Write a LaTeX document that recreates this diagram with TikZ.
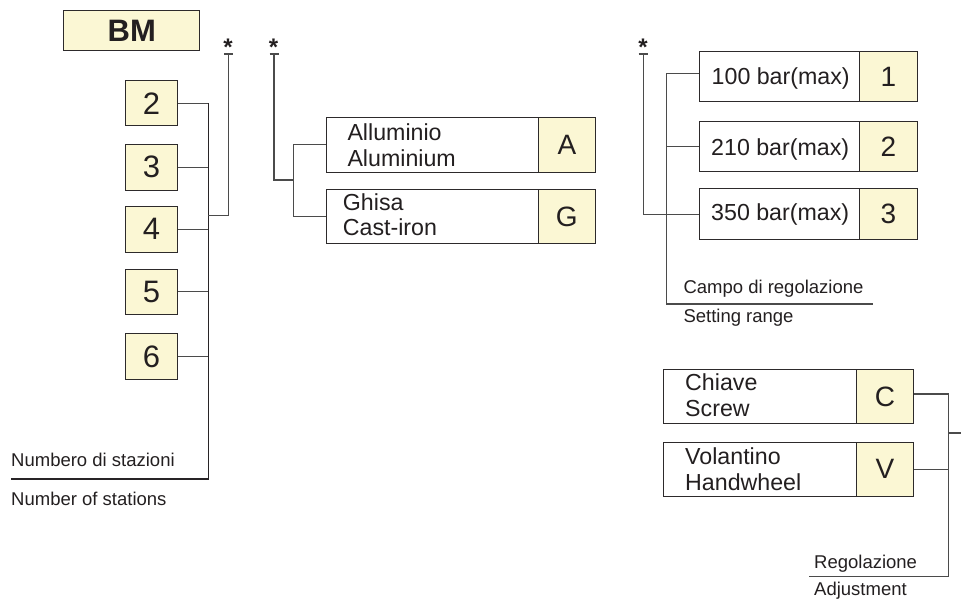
\documentclass[tikz,border=0pt]{standalone}
\usepackage{fontspec}
\setmainfont{Liberation Sans}
\definecolor{ylw}{RGB}{251,247,212}
\definecolor{linec}{RGB}{75,75,75}
\definecolor{busc}{RGB}{40,36,38}
\definecolor{boxc}{RGB}{45,42,43}
\definecolor{txtc}{RGB}{35,31,32}
\tikzset{
  ln/.style={draw=linec, line width=1.1pt},
  busln/.style={draw=busc, line width=1.1pt},
  ybox/.style={draw=boxc, fill=ylw, line width=1pt, inner sep=0pt, anchor=north west, text=txtc},
  wbox/.style={draw=boxc, fill=white, line width=1pt, inner sep=0pt, anchor=north west},
  txt/.style={font=\fontsize{23.2}{25.7}\selectfont, anchor=base west, inner sep=0pt, text=txtc},
  lbl/.style={font=\fontsize{18.5}{22}\selectfont, anchor=base west, inner sep=0pt, text=txtc},
  starnode/.style={font=\fontsize{24}{26}\selectfont\bfseries, anchor=base, inner sep=0pt, text=txtc},
  numbox/.style={ybox, minimum width=52pt, minimum height=45.5pt, font=\fontsize{31}{33}\selectfont},
  letfont/.style={font=\fontsize{28}{30}\selectfont},
}
\begin{document}
\begin{tikzpicture}[x=1pt,y=-1pt]
\useasboundingbox (0,0) rectangle (961,599);

% BM
\node[ybox, minimum width=136pt, minimum height=40.5pt, font=\fontsize{31}{33}\selectfont\bfseries] (bm) at (63.3,10) {BM};

% number boxes
\node[numbox] (n2) at (125,80) {2};
\node[numbox] (n3) at (125,144) {3};
\node[numbox] (n4) at (125,206) {4};
\node[numbox] (n5) at (125,268.5) {5};
\node[numbox] (n6) at (125,333.3) {6};

\coordinate (b1top) at (208.3,103);
\coordinate (b1bot) at (208.3,479);
\coordinate (b1end) at (11,479);
\foreach \n in {n2,n3,n4,n5,n6}{\draw[ln] (\n.east) -- (\n.east -| b1top);}
\draw[busln] (b1top) -- (b1bot) -- (b1end);
\node[lbl] (l1a) at (11,466.7) {Numbero di stazioni};
\node[lbl] (l1b) at (11,505) {Number of stations};

% star 1
\node[starnode] (s1) at (228,56) {*};
\coordinate (t1l) at (224,54); \coordinate (t1r) at (233,54);
\coordinate (t1) at (228.7,54); \coordinate (t1b) at (228.7,215.7);
\draw[ln] (t1l) -- (t1r);
\draw[ln] (t1) -- (t1b) -- (t1b -| b1top);

% star 2 : material
\node[starnode] (s2) at (273.5,56) {*};
\coordinate (t2l) at (269.5,54); \coordinate (t2r) at (278.5,54);
\coordinate (t2) at (274,54); \coordinate (t2b) at (274,180);
\draw[ln] (t2l) -- (t2r);

\node[wbox, minimum width=269.5pt, minimum height=54.5pt] (alw) at (325.5,117) {};
\node[ybox, minimum width=57.3pt, minimum height=54.5pt, letfont] (aly) at (537.7,117) {A};
\node[txt] (alt1) at (347.3,141) {Alluminio};
\node[txt] (alt2) at (347.3,166.7) {Aluminium};

\node[wbox, minimum width=269.5pt, minimum height=54pt] (ghw) at (325.5,189) {};
\node[ybox, minimum width=57.3pt, minimum height=54pt, letfont] (ghy) at (537.7,189) {G};
\node[txt] (ght1) at (342.7,210) {Ghisa};
\node[txt] (ght2) at (342.7,235.7) {Cast-iron};

\coordinate (b2x) at (293.3,180);
\draw[ln] (t2) -- (t2b) -- (b2x);
\draw[ln] (alw.west) -- (alw.west -| b2x) -- (ghw.west -| b2x) -- (ghw.west);

% star 3 : pressure
\node[starnode] (s3) at (643,56) {*};
\coordinate (t3l) at (638.5,54); \coordinate (t3r) at (647.5,54);
\coordinate (t3) at (643.5,54);
\draw[ln] (t3l) -- (t3r);

\node[wbox, minimum width=218pt, minimum height=50.5pt] (p1w) at (699,50.7) {};
\node[ybox, minimum width=58pt, minimum height=50.5pt, letfont] (p1y) at (859,50.7) {1};
\node[txt] (p1t) at (711.5,84.3) {100 bar(max)};

\node[wbox, minimum width=218pt, minimum height=50.5pt] (p2w) at (699,120.7) {};
\node[ybox, minimum width=58pt, minimum height=50.5pt, letfont] (p2y) at (859,120.7) {2};
\node[txt] (p2t) at (711,156) {210 bar(max)};

\node[wbox, minimum width=218pt, minimum height=50.7pt] (p3w) at (699,188.3) {};
\node[ybox, minimum width=58pt, minimum height=50.7pt, letfont] (p3y) at (859,188.3) {3};
\node[txt] (p3t) at (711,220) {350 bar(max)};

\coordinate (b3top) at (666.7,73.3);
\coordinate (b3bot) at (666.7,304);
\coordinate (b3end) at (872.7,304);
\draw[ln] (p1w.west |- b3top) -- (b3top) -- (b3bot) -- (b3end);
\draw[ln] (p2w.west) -- (p2w.west -| b3top);
\draw[ln] (t3) -- (t3 |- p3w.west) -- (p3w.west);
\node[lbl] (l3a) at (683.3,293) {Campo di regolazione};
\node[lbl] (l3b) at (683.3,322.7) {Setting range};

% adjustment
\node[wbox, minimum width=250pt, minimum height=54pt] (cw) at (663.3,369.3) {};
\node[ybox, minimum width=57.6pt, minimum height=54pt, letfont] (cy) at (855.7,369.3) {C};
\node[txt] (ct1) at (685,390.7) {Chiave};
\node[txt] (ct2) at (685,416) {Screw};

\node[wbox, minimum width=250pt, minimum height=54pt] (vw) at (663.3,441.7) {};
\node[ybox, minimum width=57.6pt, minimum height=54pt, letfont] (vy) at (855.7,441.7) {V};
\node[txt] (vt1) at (685,464.3) {Volantino};
\node[txt] (vt2) at (685,490) {Handwheel};

\coordinate (b4top) at (948.7,394);
\coordinate (b4bot) at (948.7,576.5);
\coordinate (b4end) at (809,576.5);
\coordinate (b4mid) at (948.7,433);
\coordinate (b4out) at (962,433);
\draw[ln] (cy.east |- b4top) -- (b4top) -- (b4bot) -- (b4end);
\draw[ln] (vy.east) -- (vy.east -| b4top);
\draw[ln] (b4mid) -- (b4out);
\node[lbl] (l4a) at (814,568.5) {Regolazione};
\node[lbl] (l4b) at (814,595) {Adjustment};
\end{tikzpicture}
\end{document}
